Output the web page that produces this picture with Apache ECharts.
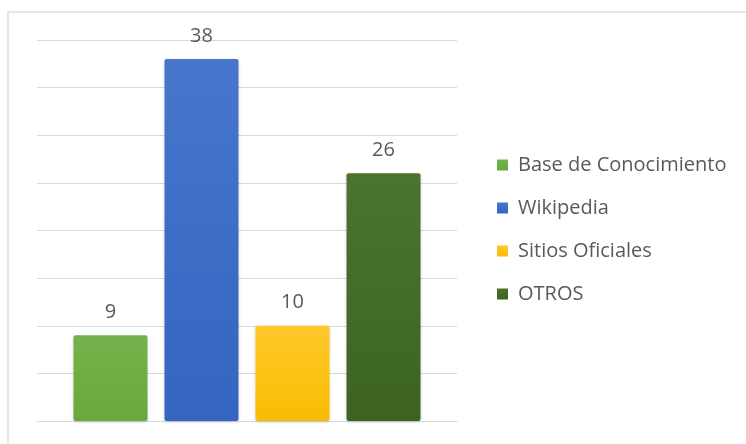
<!DOCTYPE html>
<html>
<head>
<meta charset="utf-8">
<script src="https://cdn.jsdelivr.net/npm/echarts@6/dist/echarts.min.js"></script>
<style>
  html, body { margin: 0; padding: 0; background: #fff; }
  #frame { position: absolute; left: 7px; top: 11px; width: 760px; height: 460px;
           border-left: 2px solid #e6e6e6; border-top: 2px solid #e6e6e6; }
  #main { position: absolute; left: 0; top: 0; width: 746px; height: 444px; }
</style>
</head>
<body>
<div id="frame"></div>
<div id="main"></div>
<script>
const categories = [''];
const seriesNames = ['Base de Conocimiento', 'Wikipedia', 'Sitios Oficiales', 'OTROS'];
const seriesValues = [[9], [38], [10], [26]];
const yTicks = { min: 0, max: 40, interval: 5 };

const colorsTop = ['#74b34b', '#4677cc', '#ffc82a', '#4a7430'];
const colorsBottom = ['#68a83e', '#3465c0', '#f8bd00', '#3c6322'];

const chart = echarts.init(document.getElementById('main'), null, { renderer: 'canvas' });
const font = '"Open Sans", "Liberation Sans", sans-serif';

const option = {
  backgroundColor: 'transparent',
  animation: false,
  grid: { left: 37, right: 289, top: 40, bottom: 23, containLabel: false },
  legend: {
    orient: 'vertical',
    left: 492,
    top: 150,
    padding: 5,
    icon: 'rect',
    itemWidth: 11,
    itemHeight: 11,
    itemGap: 23,
    textStyle: { fontFamily: font, fontSize: 20, color: '#595959', padding: [0, 0, 0, 5] },
    data: seriesNames
  },
  xAxis: {
    type: 'category',
    data: categories,
    axisLine: { show: true, lineStyle: { color: '#d9d9d9', width: 1 } },
    axisTick: { show: false },
    axisLabel: { show: false }
  },
  yAxis: {
    type: 'value',
    min: yTicks.min,
    max: yTicks.max,
    interval: yTicks.interval,
    axisLine: { show: false },
    axisTick: { show: false },
    axisLabel: { show: false },
    splitLine: { lineStyle: { color: '#d9d9d9', width: 1 } }
  },
  series: seriesNames.map((name, i) => ({
    name: name,
    type: 'bar',
    data: seriesValues[i],
    barWidth: 74,
    barGap: '23%',
    itemStyle: {
      color: new echarts.graphic.LinearGradient(0, 0, 0, 1, [
        { offset: 0, color: colorsTop[i] },
        { offset: 1, color: colorsBottom[i] }
      ]),
      borderRadius: 2,
      shadowColor: 'rgba(0,0,0,0.18)',
      shadowBlur: 3,
      shadowOffsetY: 1
    },
    label: {
      show: true,
      position: 'top',
      distance: 13,
      fontFamily: font,
      fontSize: 20,
      color: '#595959'
    }
  }))
};
chart.setOption(option);
</script>
</body>
</html>
